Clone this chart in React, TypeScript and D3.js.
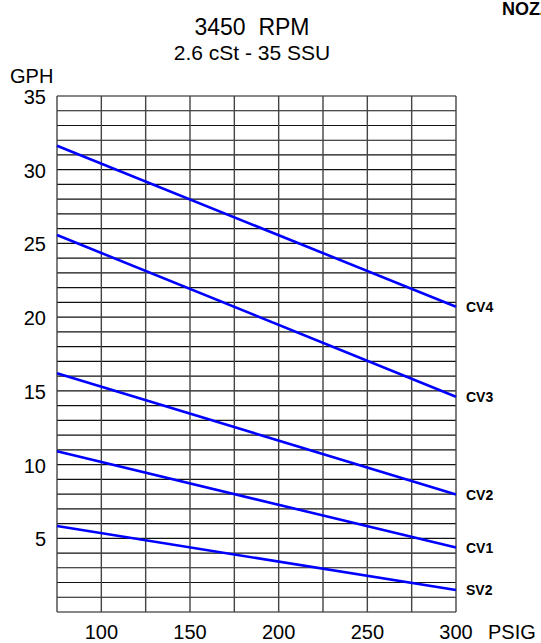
import React, { useEffect, useRef } from 'react';
import * as d3 from 'd3';

// pressure range (PSIG)
const pressures = [75, 300];

const seriesNames = ['SV2', 'CV1', 'CV2', 'CV3', 'CV4'];
const sv2 = [5.83, 1.49];
const cv1 = [10.9, 4.37];
const cv2 = [16.2, 7.97];
const cv3 = [25.57, 14.6];
const cv4 = [31.63, 20.7];

const xTickLabels = [100, 150, 200, 250, 300];
const yTickLabels = [5, 10, 15, 20, 25, 30, 35];

const WIDTH = 541;
const HEIGHT = 643;

export default function App() {
    const canvas = useRef<SVGSVGElement>(null);

    useEffect(() => {
        const margin = { top: 96, right: 85, bottom: 31, left: 57 };
        const width = WIDTH - margin.left - margin.right;
        const height = HEIGHT - margin.top - margin.bottom;

        const svg = d3.select(canvas.current);
        svg.selectAll('*').remove();

        const xScale = d3.scaleLinear().domain([75, 300]).range([0, width]);
        const yScale = d3.scaleLinear().domain([0, 35]).range([height, 0]);

        const g = svg.append('g')
            .attr('transform', 'translate(' + [margin.left, margin.top] + ')');

        // grid
        g.selectAll('.hLine')
            .data(d3.range(0, 36, 1))
            .enter().append('line')
            .attr('class', 'hLine')
            .attr('x1', 0)
            .attr('x2', width)
            .attr('y1', (d: number) => yScale(d))
            .attr('y2', (d: number) => yScale(d))
            .attr('stroke', '#111')
            .attr('stroke-width', 1.2);

        g.selectAll('.vLine')
            .data(d3.range(75, 301, 25))
            .enter().append('line')
            .attr('class', 'vLine')
            .attr('y1', 0)
            .attr('y2', height)
            .attr('x1', (d: number) => xScale(d))
            .attr('x2', (d: number) => xScale(d))
            .attr('stroke', '#444')
            .attr('stroke-width', 1.4);

        // y tick labels
        g.selectAll('.yLabel')
            .data(yTickLabels)
            .enter().append('text')
            .attr('class', 'yLabel')
            .attr('x', -11)
            .attr('y', (d: number) => yScale(d))
            .attr('dy', '0.4em')
            .attr('text-anchor', 'end')
            .attr('font-size', 20)
            .text((d: number) => d);

        // x tick labels
        g.selectAll('.xLabel')
            .data(xTickLabels)
            .enter().append('text')
            .attr('class', 'xLabel')
            .attr('x', (d: number) => xScale(d))
            .attr('y', height + 27)
            .attr('text-anchor', 'middle')
            .attr('font-size', 20)
            .text((d: number) => d);

        // series lines
        const series = [sv2, cv1, cv2, cv3, cv4];
        const line = d3.line<number>()
            .x((d, i) => xScale(pressures[i]))
            .y((d) => yScale(d));

        g.selectAll('.curve')
            .data(series)
            .enter().append('path')
            .attr('class', 'curve')
            .attr('d', (d: number[]) => line(d))
            .attr('fill', 'none')
            .attr('stroke', '#0000ff')
            .attr('stroke-width', 2.6);

        g.selectAll('.seriesLabel')
            .data(series)
            .enter().append('text')
            .attr('class', 'seriesLabel')
            .attr('x', width + 10)
            .attr('y', (d: number[]) => yScale(d[d.length - 1]))
            .attr('dy', '0.36em')
            .attr('font-size', 14)
            .attr('font-weight', 'bold')
            .text((d: number[], i: number) => seriesNames[i]);

        // titles
        svg.append('text')
            .attr('x', 252)
            .attr('y', 35)
            .attr('text-anchor', 'middle')
            .attr('font-size', 23)
            .style('white-space', 'pre')
            .text('3450  RPM');

        svg.append('text')
            .attr('x', 252)
            .attr('y', 60)
            .attr('text-anchor', 'middle')
            .attr('font-size', 21)
            .text('2.6 cSt - 35 SSU');

        svg.append('text')
            .attr('x', 10)
            .attr('y', 83)
            .attr('font-size', 20)
            .text('GPH');

        svg.append('text')
            .attr('x', margin.left + width + 32)
            .attr('y', height + margin.top + 27)
            .attr('font-size', 20)
            .text('PSIG');

        svg.append('text')
            .attr('x', 502)
            .attr('y', 15)
            .attr('font-size', 18)
            .attr('font-weight', 'bold')
            .text('NOZZLE');
    }, []);

    return (
        <svg
            ref={canvas}
            width={WIDTH}
            height={HEIGHT}
            style={{ position: 'absolute', left: 0, top: 0, background: '#fff', fontFamily: 'Arial, "Liberation Sans", sans-serif' }}
        />
    );
}
